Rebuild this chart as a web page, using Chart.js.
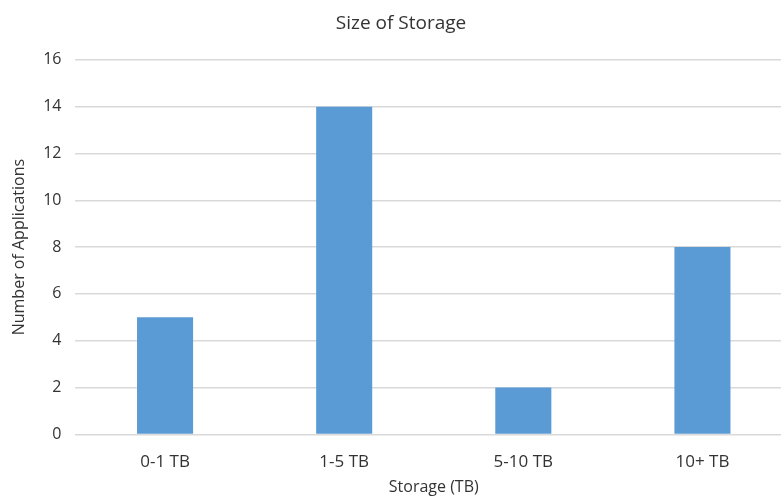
<!DOCTYPE html>
<html>
<head>
<meta charset="utf-8">
<script src="https://cdn.jsdelivr.net/npm/chart.js@4.4.1/dist/chart.umd.min.js"></script>
<style>
  html, body { margin: 0; padding: 0; background: #fff; overflow: hidden; }
  #wrap { width: 797px; height: 497px; }
</style>
</head>
<body>
<div id="wrap"><canvas id="c" width="797" height="497"></canvas></div>
<script>
// Storage size buckets and how many applications fall in each
const categories = ['0-1 TB', '1-5 TB', '5-10 TB', '10+ TB'];
const applications = [5, 14, 2, 8];
const yTicks = [0, 2, 4, 6, 8, 10, 12, 14, 16];

const FONT = "'Open Sans', 'Liberation Sans', sans-serif";
const TEXT = '#333333';

new Chart(document.getElementById('c'), {
  type: 'bar',
  data: {
    labels: categories,
    datasets: [{
      label: 'Number of Applications',
      data: applications,
      backgroundColor: '#5B9BD5',
      borderWidth: 0,
      barPercentage: 0.313,
      categoryPercentage: 1.0
    }]
  },
  options: {
    responsive: false,
    animation: false,
    layout: { padding: { left: 10, right: 5, top: 12, bottom: 0 } },
    plugins: {
      legend: { display: false },
      tooltip: { enabled: false },
      title: {
        display: true,
        text: 'Size of Storage',
        color: TEXT,
        font: { family: FONT, size: 19, weight: 'normal' },
        padding: { top: 0, bottom: 25 }
      }
    },
    scales: {
      x: {
        grid: { display: false, drawTicks: false },
        border: { display: false },
        ticks: { color: TEXT, font: { family: FONT, size: 17 }, padding: 18 },
        title: {
          display: true,
          text: 'Storage (TB)',
          color: TEXT,
          font: { family: FONT, size: 16 },
          padding: { top: -13, bottom: 0 }
        }
      },
      y: {
        min: 0,
        max: 16,
        afterBuildTicks: (axis) => { axis.ticks = yTicks.map(v => ({ value: v })); },
        grid: { color: '#D9D9D9', lineWidth: 1.5, drawTicks: false },
        border: { display: false },
        ticks: { color: TEXT, font: { family: FONT, size: 16 }, padding: 14 },
        title: {
          display: true,
          text: 'Number of Applications',
          color: TEXT,
          font: { family: FONT, size: 16 },
          padding: { top: 0, bottom: 0 }
        }
      }
    }
  }
});
</script>
</body>
</html>
